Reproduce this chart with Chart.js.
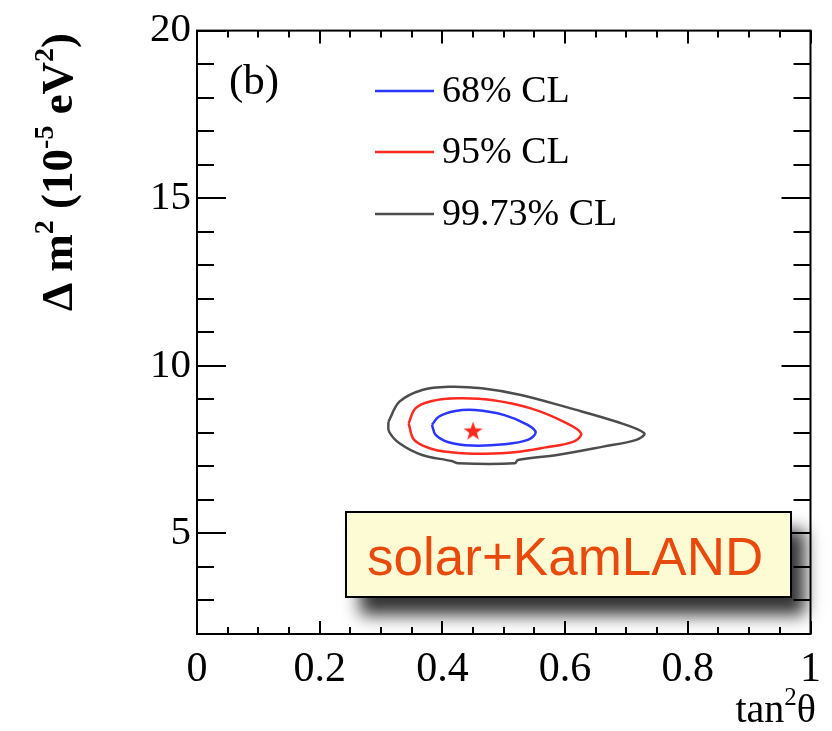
<!DOCTYPE html>
<html>
<head>
<meta charset="utf-8">
<script src="https://cdn.jsdelivr.net/npm/chart.js@4.4.1/dist/chart.umd.min.js"></script>
<style>
  html, body { margin: 0; padding: 0; background: #fff; }
  #wrap { width: 832px; height: 731px; }
</style>
</head>
<body>
<div id="wrap"><canvas id="chart" width="832" height="731"></canvas></div>
<script>
// axes: tan^2(theta) vs delta m^2 (1e-5 eV^2)
const xTicks = [0, 0.2, 0.4, 0.6, 0.8, 1];
const yTicks = [5, 10, 15, 20];
const xMinorStep = 0.05;
const yMinorStep = 1;

const seriesLabels = ['68% CL', '95% CL', '99.73% CL'];
const seriesColors = ['#2a35ff', '#ff2a1f', '#4d4d4d'];

// contour outlines (closed: last point repeats the first)
const cl68X = [0.383, 0.394, 0.421, 0.453, 0.501, 0.539, 0.552, 0.539, 0.501, 0.448, 0.410, 0.389, 0.383];
const cl68Y = [8.24, 8.48, 8.65, 8.68, 8.53, 8.24, 8.01, 7.79, 7.66, 7.62, 7.72, 7.94, 8.24];

const cl95X = [0.345, 0.356, 0.383, 0.426, 0.480, 0.544, 0.598, 0.626, 0.614, 0.566, 0.517, 0.469, 0.426, 0.383, 0.354, 0.345];
const cl95Y = [8.28, 8.73, 8.95, 9.03, 8.98, 8.73, 8.33, 7.99, 7.74, 7.56, 7.42, 7.38, 7.40, 7.52, 7.79, 8.28];

const cl9973X = [0.312, 0.330, 0.367, 0.410, 0.464, 0.528, 0.609, 0.684, 0.729, 0.716, 0.662, 0.587, 0.523, 0.518, 0.426, 0.415, 0.367, 0.330, 0.313, 0.312];
const cl9973Y = [8.33, 8.93, 9.28, 9.375, 9.33, 9.13, 8.73, 8.33, 7.99, 7.79, 7.59, 7.34, 7.19, 7.09, 7.09, 7.16, 7.34, 7.69, 8.04, 8.33];

const bestFitX = [0.45];
const bestFitY = [8.04];

const toPoints = (xs, ys) => xs.map((x, i) => ({ x: x, y: ys[i] }));

// filled five-point star for the best fit marker
function makeStar(r, color) {
  const c = document.createElement('canvas');
  c.width = c.height = r * 2 + 2;
  const g = c.getContext('2d');
  g.translate(r + 1, r + 1);
  g.beginPath();
  for (let i = 0; i < 10; i++) {
    const rad = i % 2 === 0 ? r : r * 0.4;
    const a = -Math.PI / 2 + i * Math.PI / 5;
    g.lineTo(rad * Math.cos(a), rad * Math.sin(a));
  }
  g.closePath();
  g.fillStyle = color;
  g.fill();
  return c;
}

const serif = '"Liberation Serif", "Times New Roman", serif';

// draws a run of text pieces, some raised as superscripts
function richText(ctx, x, y, parts, size, weight, align) {
  const sup = Math.round(size * 0.62);
  let total = 0;
  parts.forEach(p => {
    ctx.font = weight + ' ' + (p.sup ? sup : size) + 'px ' + serif;
    p.w = ctx.measureText(p.t).width;
    total += p.w;
  });
  let cx = align === 'right' ? x - total : align === 'center' ? x - total / 2 : x;
  parts.forEach(p => {
    ctx.font = weight + ' ' + (p.sup ? sup : size) + 'px ' + serif;
    ctx.fillText(p.t, cx, p.sup ? y - size * 0.42 : y);
    cx += p.w;
  });
}

const framePlugin = {
  id: 'frame',
  afterDraw(chart) {
    const ctx = chart.ctx;
    const a = chart.chartArea;
    const xs = chart.scales.x;
    const ys = chart.scales.y;
    ctx.save();

    // frame
    ctx.strokeStyle = '#000';
    ctx.lineWidth = 2;
    ctx.strokeRect(a.left, a.top, a.right - a.left, a.bottom - a.top);

    // inward ticks on all four sides
    ctx.lineWidth = 2;
    ctx.beginPath();
    for (let v = xs.min; v <= xs.max + 1e-9; v += xMinorStep) {
      const major = xTicks.some(t => Math.abs(t - v) < 1e-6);
      const px = Math.round(xs.getPixelForValue(v));
      const len = major ? 13 : 7;
      ctx.moveTo(px, a.bottom); ctx.lineTo(px, a.bottom - len);
      ctx.moveTo(px, a.top); ctx.lineTo(px, a.top + len);
    }
    for (let v = ys.min; v <= ys.max + 1e-9; v += yMinorStep) {
      const major = yTicks.some(t => Math.abs(t - v) < 1e-6);
      const py = Math.round(ys.getPixelForValue(v));
      const len = major ? 29 : 17;
      ctx.moveTo(a.left, py); ctx.lineTo(a.left + len, py);
      ctx.moveTo(a.right, py); ctx.lineTo(a.right - len, py);
    }
    ctx.stroke();

    // panel tag
    ctx.fillStyle = '#000';
    ctx.textBaseline = 'alphabetic';
    ctx.textAlign = 'left';
    ctx.font = '43px ' + serif;
    ctx.fillText('(b)', 229, 94);

    // legend
    const rows = [91, 152, 214];
    chart.data.datasets.slice(0, 3).forEach((ds, i) => {
      ctx.strokeStyle = ds.borderColor;
      ctx.lineWidth = 2.5;
      ctx.beginPath();
      ctx.moveTo(375, rows[i]);
      ctx.lineTo(434, rows[i]);
      ctx.stroke();
      ctx.fillStyle = '#000';
      ctx.font = '38px ' + serif;
      ctx.textBaseline = 'middle';
      ctx.fillText(ds.label, 442, rows[i] + 1);
    });

    // axis titles
    ctx.textBaseline = 'alphabetic';
    ctx.fillStyle = '#000';
    richText(ctx, 816, 722, [{ t: 'tan' }, { t: '2', sup: true }, { t: 'θ' }], 40, 'normal', 'right');
    ctx.save();
    ctx.translate(72, 172);
    ctx.rotate(-Math.PI / 2);
    richText(ctx, 0, 0, [
      { t: 'Δ m' }, { t: '2', sup: true }, { t: ' (10' }, { t: '-5', sup: true },
      { t: ' eV' }, { t: '2', sup: true }, { t: ')' }
    ], 45, 'bold', 'center');
    ctx.restore();

    // label box with drop shadow
    ctx.save();
    ctx.shadowColor = 'rgba(0,0,0,0.8)';
    ctx.shadowBlur = 16;
    ctx.shadowOffsetX = 14;
    ctx.shadowOffsetY = 18;
    ctx.fillStyle = '#fdfbd4';
    ctx.fillRect(346, 512, 445, 85);
    ctx.restore();
    ctx.strokeStyle = '#000';
    ctx.lineWidth = 2;
    ctx.strokeRect(346, 512, 445, 85);
    ctx.fillStyle = '#e84a0e';
    ctx.font = '53px "Liberation Sans", Arial, sans-serif';
    ctx.textAlign = 'left';
    ctx.textBaseline = 'alphabetic';
    ctx.fillText('solar+KamLAND', 367, 575);

    ctx.restore();
  }
};

const lineSet = (label, xs, ys, color) => ({
  label: label,
  data: toPoints(xs, ys),
  showLine: true,
  borderColor: color,
  backgroundColor: color,
  borderWidth: 2.5,
  pointRadius: 0,
  tension: 0.35,
  fill: false
});

new Chart(document.getElementById('chart'), {
  type: 'scatter',
  data: {
    datasets: [
      lineSet(seriesLabels[0], cl68X, cl68Y, seriesColors[0]),
      lineSet(seriesLabels[1], cl95X, cl95Y, seriesColors[1]),
      lineSet(seriesLabels[2], cl9973X, cl9973Y, seriesColors[2]),
      {
        label: 'best fit',
        data: toPoints(bestFitX, bestFitY),
        pointStyle: makeStar(10, '#ff2a1f'),
        pointRadius: 10
      }
    ]
  },
  options: {
    responsive: false,
    animation: false,
    layout: { padding: { top: 28, right: 14, bottom: 0, left: 0 } },
    plugins: {
      legend: { display: false },
      tooltip: { enabled: false }
    },
    scales: {
      x: {
        type: 'linear',
        min: 0,
        max: 1,
        grid: { display: false, drawTicks: false },
        border: { display: false },
        afterBuildTicks: s => { s.ticks = xTicks.map(v => ({ value: v })); },
        afterFit: s => { s.height = 97; },
        ticks: {
          color: '#000',
          padding: 11,
          font: { family: serif, size: 42 },
          callback: v => String(v)
        }
      },
      y: {
        type: 'linear',
        min: 2,
        max: 20,
        grid: { display: false, drawTicks: false },
        border: { display: false },
        afterBuildTicks: s => { s.ticks = yTicks.map(v => ({ value: v })); },
        afterFit: s => { s.width = 197; },
        ticks: {
          color: '#000',
          padding: 6,
          font: { family: serif, size: 41 },
          callback: v => String(v)
        }
      }
    }
  },
  plugins: [framePlugin]
});
</script>
</body>
</html>
